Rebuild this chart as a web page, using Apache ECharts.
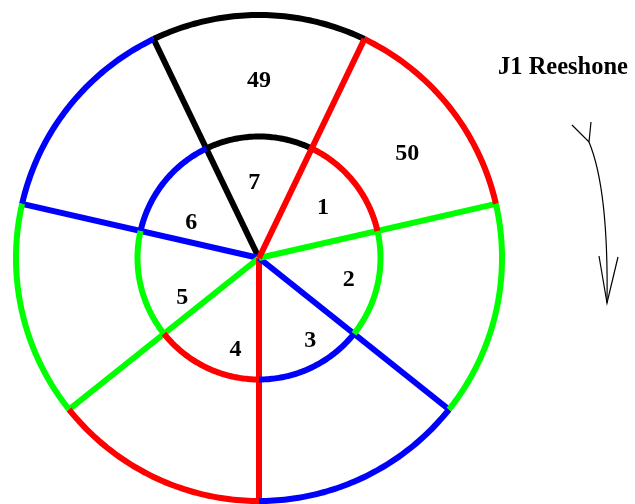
<!DOCTYPE html>
<html>
<head>
<meta charset="utf-8">
<script src="https://cdn.jsdelivr.net/npm/echarts@6/dist/echarts.min.js"></script>
<style>
html,body{margin:0;padding:0;background:#fff;}
#chart{width:635px;height:504px;}
</style>
</head>
<body>
<div id="chart"></div>
<script>
// ---- data ----
const title = 'J1 Reeshone';
// sectors in clockwise order, starting at the top-left boundary
const sectorLabels = ['7', '1', '2', '3', '4', '5', '6'];
const outerLabels = ['49', '50', '', '', '', '', ''];

// ---- styles / layout (not data) ----
const sectorColors = ['#000000', '#ff0000', '#00ff00', '#0000ff', '#ff0000', '#00ff00', '#0000ff'];
// inner label placement: [radius (ring units), angle (sector units)]
const innerLabelPos = [[0.62, 0.43], [0.67, 1.51], [0.76, 2.52], [0.80, 3.38], [0.78, 4.28], [0.71, 5.22], [0.63, 6.29]];
const outerLabelPos = [[1.46, 0.5], [1.49, 1.57]];
const LW = 6;
const labelFont = 'bold 24px "Liberation Serif", "Times New Roman", serif';

const chart = echarts.init(document.getElementById('chart'), null, {renderer: 'canvas'});
const n = sectorLabels.length;

function renderItem(params, api) {
  const i = api.value(1);
  const color = sectorColors[i];
  const z2 = i === 0 ? 0 : 10 * (n - i);
  const children = [];
  const p0 = api.coord([0, i]);
  const p1 = api.coord([2, i]);
  const steps = 60;
  const inner = [], outer = [];
  for (let s = 0; s <= steps; s++) {
    const a = i + s / steps;
    inner.push(api.coord([1, a]));
    outer.push(api.coord([2, a]));
  }
  children.push({type: 'polyline', z2: z2, shape: {points: outer}, style: {stroke: color, lineWidth: LW, fill: null}});
  children.push({type: 'polyline', z2: z2, shape: {points: inner}, style: {stroke: color, lineWidth: LW, fill: null}});
  children.push({type: 'line', z2: z2 + 1, shape: {x1: p0[0], y1: p0[1], x2: p1[0], y2: p1[1]}, style: {stroke: color, lineWidth: LW}});
  const lp = innerLabelPos[i];
  const tp = api.coord([lp[0], lp[1]]);
  children.push({type: 'text', z2: 100, x: tp[0], y: tp[1], style: {text: sectorLabels[i], font: labelFont, fill: '#000', align: 'center', verticalAlign: 'middle'}});
  if (outerLabels[i]) {
    const op = outerLabelPos[i] || [1.48, i + 0.5];
    const q = api.coord([op[0], op[1]]);
    children.push({type: 'text', z2: 100, x: q[0], y: q[1], style: {text: outerLabels[i], font: labelFont, fill: '#000', align: 'center', verticalAlign: 'middle'}});
  }
  return {type: 'group', children: children};
}

const option = {
  backgroundColor: '#ffffff',
  animation: false,
  polar: {center: [259, 258], radius: 243},
  angleAxis: {type: 'value', min: 0, max: n, startAngle: 90 + 180 / n, clockwise: true, show: false},
  radiusAxis: {type: 'value', min: 0, max: 2, show: false},
  graphic: [
    {type: 'text', left: 498, top: 55, style: {text: title, font: 'bold 24.5px "Liberation Serif", "Times New Roman", serif', fill: '#000'}},
    {type: 'bezierCurve', shape: {x1: 589, y1: 142, cpx1: 604, cpy1: 178, cpx2: 608, cpy2: 235, x2: 607, y2: 303}, style: {stroke: '#000', lineWidth: 1.2, fill: null}},
    {type: 'polyline', shape: {points: [[599, 256], [607, 303], [618, 257]]}, style: {stroke: '#000', lineWidth: 1.2, fill: null}},
    {type: 'polyline', shape: {points: [[572, 125], [589, 142], [591, 122]]}, style: {stroke: '#000', lineWidth: 1.2, fill: null}}
  ],
  series: [{
    type: 'custom',
    coordinateSystem: 'polar',
    renderItem: renderItem,
    data: sectorLabels.map((s, i) => [2, i])
  }]
};
chart.setOption(option);
</script>
</body>
</html>
